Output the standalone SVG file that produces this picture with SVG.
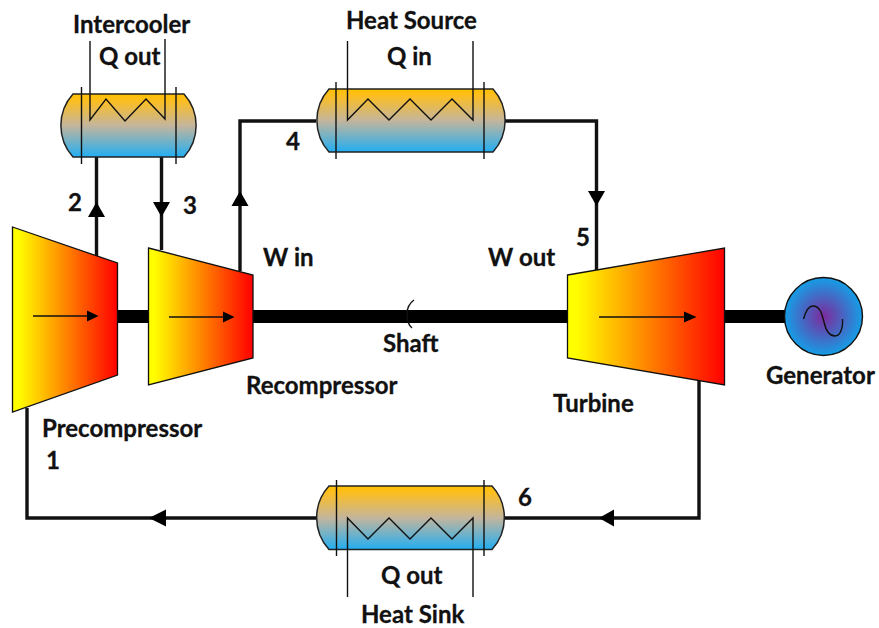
<svg xmlns="http://www.w3.org/2000/svg" width="879" height="628" viewBox="0 0 879 628">
<style>
text{font-family:"Lato","Carlito","Liberation Sans",sans-serif;font-weight:700;font-size:24px;fill:#111;stroke:#111;stroke-width:0.3}
.shell{fill:url(#shellG);stroke:#222;stroke-width:1.5}
.thin{fill:none;stroke:#111;stroke-width:1.4}
.pipe{fill:none;stroke:#111;stroke-width:3.4}
.mach{fill:url(#machG);stroke:#111;stroke-width:1.3}
.shaft{fill:#000}
.tip{fill:#000}
</style>
<defs>
<linearGradient id="shellG" x1="0" y1="0" x2="0" y2="1"><stop offset="0" stop-color="#ffc000"/><stop offset="0.1" stop-color="#fdbe1e"/><stop offset="0.5" stop-color="#c4b59c"/><stop offset="1" stop-color="#22aef2"/></linearGradient>
<linearGradient id="machG" x1="0" y1="0" x2="1" y2="0"><stop offset="0.05" stop-color="#ffff00"/><stop offset="1" stop-color="#ff0000"/></linearGradient>
<radialGradient id="genG" cx="0.5" cy="0.5" r="0.5"><stop offset="0" stop-color="#7d2a9c"/><stop offset="1" stop-color="#159ee6"/></radialGradient>
</defs>
<g id="connectors">
<path class="pipe" d="M96.500 157V256"/>
<path class="pipe" d="M161.500 157V250"/>
<path class="pipe" d="M240 271V121H316"/>
<path class="pipe" d="M505 121H596.500V270"/>
<path class="pipe" d="M699 380V518H505"/>
<path class="pipe" d="M316 518H27V408"/>
<polygon class="tip" points="96.500,202 88,217 105,217"/>
<polygon class="tip" points="161.500,217 153,202 170,202"/>
<polygon class="tip" points="240,191 231.500,206 248.500,206"/>
<polygon class="tip" points="596.500,206 588,191 605,191"/>
<polygon class="tip" points="599,518 614,509.500 614,526.500"/>
<polygon class="tip" points="149,518 166,509.500 166,526.500"/>
</g>
<g id="shaft">
<rect class="shaft" x="117" y="310" width="32" height="13"/>
<rect class="shaft" x="253" y="310" width="315" height="13"/>
<rect class="shaft" x="724" y="310" width="62" height="13"/>
<path class="thin" d="M414 300Q407 305 407 314Q407 324 412 328"/>
</g>
<g id="intercooler">
<path class="shell" d="M73 94H184A47 47 0 0 1 184 157H73A47 47 0 0 1 73 94Z"/>
<path class="thin" d="M81.500 87V164M176 87V164"/>
<path class="thin" d="M90 41V120L106 99L125 121L146 99L165 119V39"/>
<text x="73" y="33">Intercooler</text>
<text x="99" y="65">Q out</text>
</g>
<g id="heat-source">
<path class="shell" d="M329 89H493A47 47 0 0 1 493 152H329A47 47 0 0 1 329 89Z"/>
<path class="thin" d="M336 82V159M484 82V159"/>
<path class="thin" d="M347.500 41V120L368 99L389 120L410 99L431 120L452 99L473 120V41"/>
<text x="346" y="29">Heat Source</text>
<text x="387" y="65">Q in</text>
</g>
<g id="heat-sink">
<path class="shell" d="M329 486H492A47 47 0 0 1 492 549.500H329A47 47 0 0 1 329 486Z"/>
<path class="thin" d="M336.500 480V556M484 480V556"/>
<path class="thin" d="M347.500 597V518L368 539L389 518L410 539L431 518L452 539L473 518V597"/>
<text x="381" y="584">Q out</text>
<text x="361" y="622.500">Heat Sink</text>
</g>
<g id="precompressor">
<polygon class="mach" points="12.500,227 117.500,263 117.500,375 12.500,412"/>
<path class="thin" d="M33 316H90"/>
<polygon class="tip" points="98.500,316 87,310.500 87,321.500"/>
<text x="42" y="437">Precompressor</text>
</g>
<g id="recompressor">
<polygon class="mach" points="148.500,248 253,275 253,358 148.500,385"/>
<path class="thin" d="M169 317H226"/>
<polygon class="tip" points="234.500,317 223,311.500 223,322.500"/>
<text x="246" y="394">Recompressor</text>
</g>
<g id="turbine">
<polygon class="mach" points="567.500,275 724.500,248 724.500,385 567.500,358"/>
<path class="thin" d="M599 317H688"/>
<polygon class="tip" points="696.500,317 684,311.500 684,322.500"/>
<text x="553" y="412">Turbine</text>
</g>
<g id="generator">
<circle cx="823.500" cy="316.500" r="39" fill="url(#genG)" stroke="#111" stroke-width="1.4"/>
<path class="thin" d="M803.500 319C806 310 809 306 813 306C820 306 822 314 824 322C826 331 829 336 835 336C840 336 843 329 842.500 319"/>
<text x="766" y="384">Generator</text>
</g>
<g id="labels">
<text x="286" y="150">4</text>
<text x="68" y="211">2</text>
<text x="183" y="214">3</text>
<text x="263" y="266">W in</text>
<text x="488" y="266">W out</text>
<text x="576" y="246">5</text>
<text x="383" y="352">Shaft</text>
<text x="46" y="469">1</text>
<text x="518" y="506">6</text>
</g>
</svg>
